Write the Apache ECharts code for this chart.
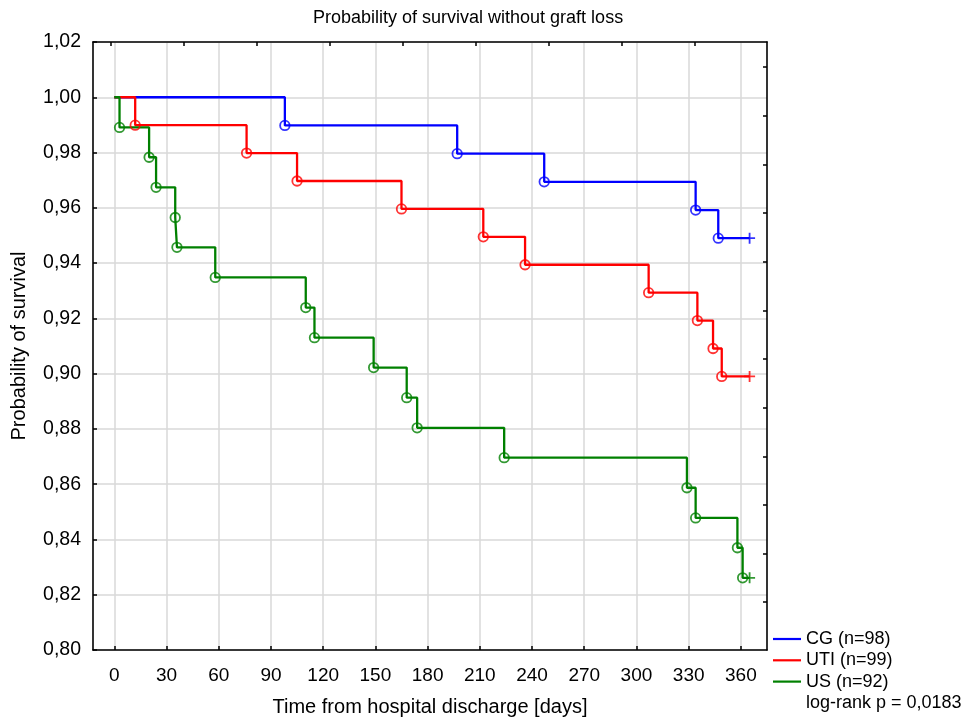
<!DOCTYPE html>
<html><head><meta charset="utf-8">
<script src="https://cdn.jsdelivr.net/npm/echarts@6/dist/echarts.min.js"></script>
<style>html,body{margin:0;padding:0;background:#fff}#c{width:975px;height:719px}</style>
</head><body><div id="c"></div>
<script>
// ---- data ----
const titleText = 'Probability of survival without graft loss';
const xName = 'Time from hospital discharge [days]';
const yName = 'Probability of survival';
const xTickValues = [0, 30, 60, 90, 120, 150, 180, 210, 240, 270, 300, 330, 360];
const topTickValues = [-1.9, 40.0, 81.9, 123.8, 165.7, 207.6, 249.5, 291.4, 333.3];
const rightTickValues = [1.0109, 0.9933, 0.9757, 0.9581, 0.9405, 0.9229, 0.9053, 0.8877, 0.8701, 0.8525, 0.8349, 0.8173];
const seriesNames = ['CG (n=98)', 'UTI (n=99)', 'US (n=92)'];
const cgTimes = [98, 197, 247, 334, 347];
const cgSurv  = [0.9898, 0.9796, 0.9694, 0.9592, 0.9490];
const utiTimes = [12, 76, 105, 165, 212, 236, 307, 335, 344, 349];
const utiSurv  = [0.9899, 0.9798, 0.9697, 0.9596, 0.9495, 0.9394, 0.9293, 0.9192, 0.9091, 0.8990];
const usTimes = [3, 20, 24, 35, 36, 58, 110, 115, 149, 168, 174, 224, 329, 334, 358, 361];
const usSurv  = [0.9891, 0.9783, 0.9674, 0.9565, 0.9457, 0.9348, 0.9239, 0.9130, 0.9022, 0.8913, 0.8804, 0.8696, 0.8587, 0.8478, 0.8370, 0.8261];
const startSurv = 1.0;
const censorTime = 365;
const logRankText = 'log-rank p = 0,0183';

// ---- styling ----
const FONT = '"Liberation Sans", Arial, sans-serif';
const colors = ['#0000ff', '#ff0000', '#008000'];
const groups = [[cgTimes, cgSurv], [utiTimes, utiSurv], [usTimes, usSurv]];

const series = [];
groups.forEach(function (g, i) {
  const times = g[0], surv = g[1];
  const events = times.map(function (t, k) { return [t, surv[k]]; });
  const lineData = [[0, startSurv]].concat(events, [[censorTime, surv[surv.length - 1]]]);
  series.push({
    type: 'line', name: seriesNames[i], step: 'end', data: lineData,
    showSymbol: false, symbol: 'none',
    lineStyle: { width: 2.3, color: colors[i] }, itemStyle: { color: colors[i] },
    z: 3, animation: false
  });
  series.push({
    type: 'scatter', name: seriesNames[i] + ' events', data: events,
    symbol: 'circle', symbolSize: 9.5,
    itemStyle: { color: 'rgba(0,0,0,0)', borderColor: colors[i], borderWidth: 1.8 },
    z: 4, silent: true, animation: false
  });
  series.push({
    type: 'scatter', name: seriesNames[i] + ' censored', data: [[censorTime, surv[surv.length - 1]]],
    symbol: 'path://M0,5L10,5M5,0L5,10', symbolSize: 11,
    itemStyle: { color: 'rgba(0,0,0,0)', borderColor: colors[i], borderWidth: 1.8 },
    z: 4, silent: true, animation: false
  });
});

const axisLineStyle = { show: true, onZero: false, lineStyle: { color: '#000', width: 1.6 } };

const option = {
  animation: false,
  backgroundColor: '#fff',
  title: {
    text: titleText, left: 313, top: 9, padding: 0,
    textStyle: { fontSize: 18, fontWeight: 'normal', color: '#000', fontFamily: FONT }
  },
  grid: { left: 93, right: 208, top: 42, bottom: 69, containLabel: false, outerBoundsMode: 'none' },
  legend: {
    orient: 'vertical', left: 773, top: 630, padding: 0,
    itemWidth: 28, itemHeight: 2.2, itemGap: 3.3, icon: 'rect',
    data: seriesNames,
    textStyle: { fontSize: 18, lineHeight: 18, color: '#000', fontFamily: FONT },
    selectedMode: false
  },
  graphic: [{
    type: 'text', left: 806, top: 694,
    style: { text: logRankText, fontSize: 18, fill: '#000', fontFamily: FONT }
  }],
  xAxis: [{
    type: 'value', position: 'bottom', min: -12.24, max: 375,
    name: xName, nameLocation: 'middle', nameGap: 47,
    nameTextStyle: { fontSize: 20, color: '#000', fontFamily: FONT },
    axisLine: axisLineStyle,
    axisTick: { show: true, inside: true, length: 4, customValues: xTickValues, lineStyle: { color: '#000', width: 1.5 } },
    axisLabel: { customValues: xTickValues, fontSize: 19, color: '#000', fontFamily: FONT, margin: 16 },
    splitLine: { show: true, lineStyle: { color: '#d9d9d9', width: 1.5 } }
  }, {
    type: 'value', position: 'top', min: -12.24, max: 375,
    axisLine: axisLineStyle,
    axisTick: { show: true, inside: true, length: 4, customValues: topTickValues, lineStyle: { color: '#000', width: 1.5 } },
    axisLabel: { show: false },
    splitLine: { show: false }
  }],
  yAxis: [{
    type: 'value', position: 'left', min: 0.8, max: 1.02, interval: 0.02,
    name: yName, nameLocation: 'middle', nameGap: 64,
    nameTextStyle: { fontSize: 20, color: '#000', fontFamily: FONT },
    axisLine: axisLineStyle,
    axisTick: { show: true, inside: true, length: 4, lineStyle: { color: '#000', width: 1.5 } },
    axisLabel: {
      fontSize: 19.5, color: '#000', fontFamily: FONT, margin: 12,
      formatter: function (v) { return v.toFixed(2).replace('.', ','); }
    },
    splitLine: { show: true, lineStyle: { color: '#d9d9d9', width: 1.5 } }
  }, {
    type: 'value', position: 'right', min: 0.8, max: 1.02,
    axisLine: axisLineStyle,
    axisTick: { show: true, inside: true, length: 4, customValues: rightTickValues, lineStyle: { color: '#000', width: 1.5 } },
    axisLabel: { show: false },
    splitLine: { show: false }
  }],
  series: series
};

const chart = echarts.init(document.getElementById('c'), null, { renderer: 'canvas' });
chart.setOption(option);
</script>
</body></html>
